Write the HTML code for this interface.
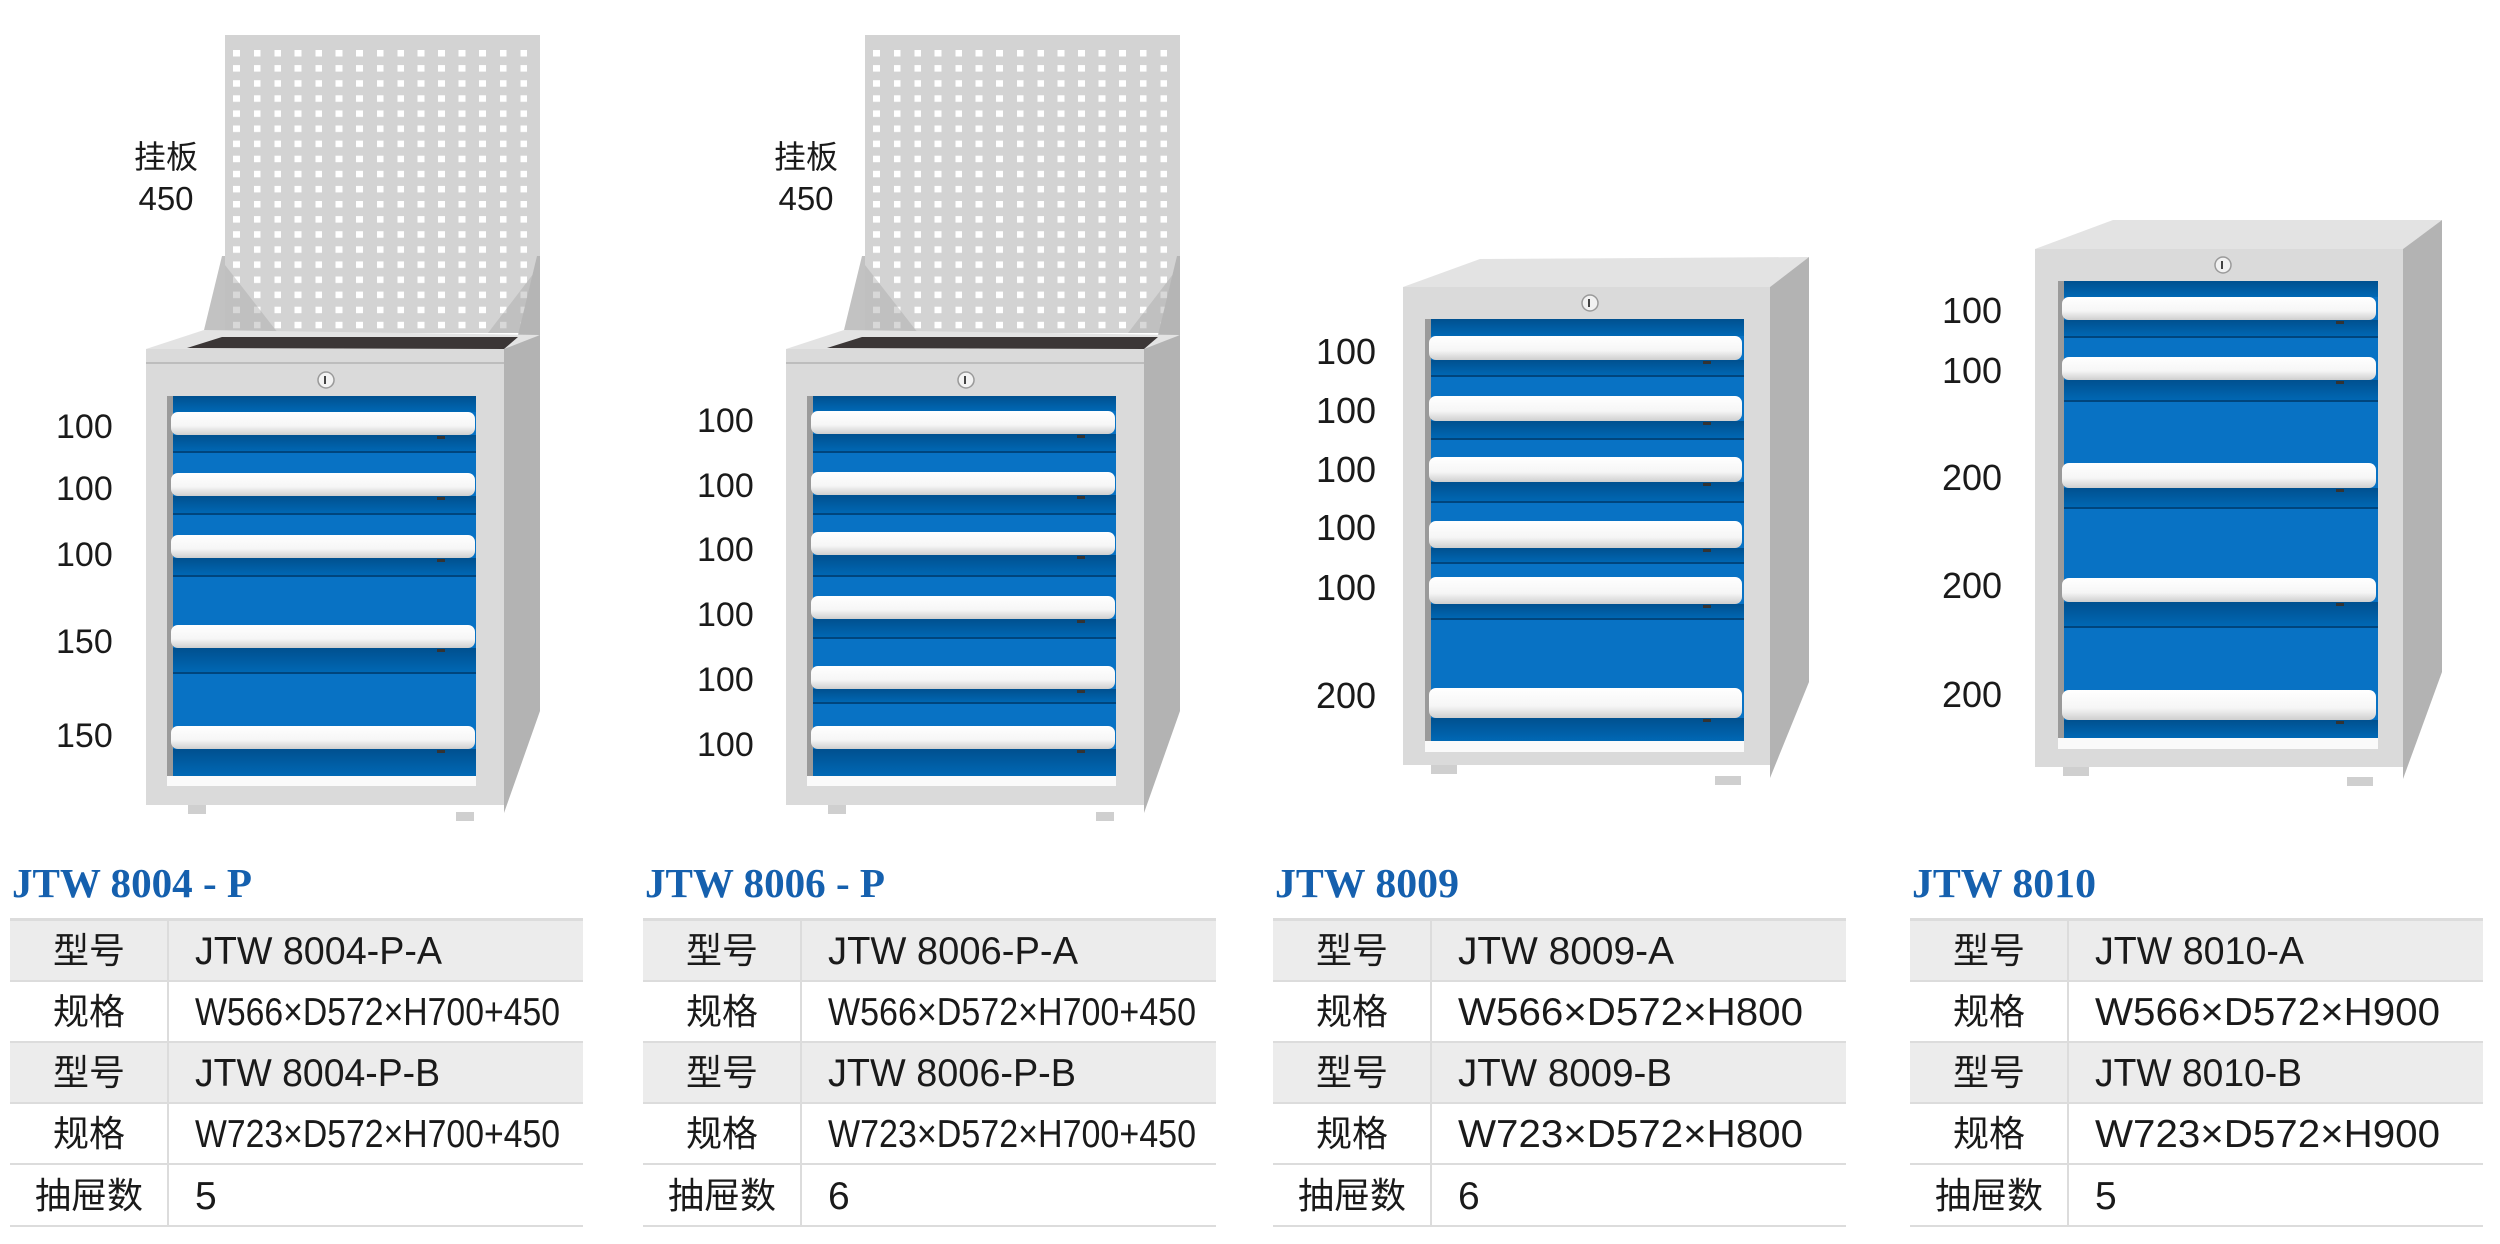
<!DOCTYPE html>
<html><head><meta charset="utf-8"><style>
html,body{margin:0;padding:0;background:#fff;}
svg{display:block;}
.lbl{font-family:"Liberation Sans",sans-serif;font-size:34px;fill:#1a1a1a;}
.lbl2{font-family:"Liberation Sans",sans-serif;font-size:36px;fill:#1a1a1a;}
.cjk{font-family:"Liberation Sans","Noto Sans CJK SC",sans-serif;font-size:36px;fill:#1a1a1a;}
.val{font-family:"Liberation Sans Narrow","Liberation Sans",sans-serif;font-size:39px;fill:#1a1a1a;}
.ttl{font-family:"Liberation Serif",serif;font-weight:bold;font-size:41px;fill:#1560ae;}
</style></head><body>
<svg width="2500" height="1244" viewBox="0 0 2500 1244" xmlns="http://www.w3.org/2000/svg">
<defs>
<pattern id="holes" patternUnits="userSpaceOnUse" x="233" y="50" width="20.5" height="15.1">
<rect x="0" y="0" width="7" height="6.5" fill="#fff"/></pattern>
<linearGradient id="hd" x1="0" y1="0" x2="0" y2="1">
<stop offset="0" stop-color="#ffffff"/><stop offset="0.6" stop-color="#f6f6f6"/><stop offset="1" stop-color="#cfcfcf"/></linearGradient>
<linearGradient id="dk" x1="0" y1="0" x2="0" y2="1">
<stop offset="0" stop-color="#00508f"/><stop offset="1" stop-color="#0068b5"/></linearGradient>
<g id="pegtop">
<rect x="225" y="35" width="315" height="298" fill="#d3d3d3"/>
<rect x="233" y="50" width="295" height="279" fill="url(#holes)"/>
<polygon points="225,265 278,333 225,333" fill="#a9a9a9" opacity="0.45"/>
<polygon points="540,265 488,333 540,333" fill="#a9a9a9" opacity="0.45"/>
<polygon points="204,330 222,256 225,256 225,333" fill="#c2c2c2"/>
<polygon points="518,335 537,256 540,256 540,336" fill="#b5b5b5"/>
<polygon points="146,349 204,330 540,335 504,350" fill="#e3e3e3"/>
<polygon points="187,348 222,337 518,337 504,349" fill="#3b3636"/>
<rect x="146" y="349" width="358" height="456" fill="#dadada"/>
<line x1="146" y1="363" x2="504" y2="363" stroke="#bdbdbd" stroke-width="2"/>
<polygon points="504,349 540,335 540,711 504,813" fill="#b3b3b3"/>
<circle cx="326" cy="380" r="8" fill="#f2f2f2" stroke="#9a9a9a" stroke-width="1.5"/>
<rect x="324" y="376" width="2" height="8" fill="#444"/>
<rect x="167" y="396" width="6" height="385" fill="#9a9a9a"/>
<rect x="173" y="396" width="303" height="380" fill="#0872c4"/>
<rect x="167" y="776" width="309" height="10" fill="#fafafa"/>
<rect x="188" y="805" width="18" height="9" fill="#cfcfcf"/>
<rect x="456" y="812" width="18" height="9" fill="#cfcfcf"/>
</g>
</defs>

<!-- Cabinet 1 -->
<use href="#pegtop"/>
<g>
<rect x="173" y="396" width="303" height="16" fill="url(#dk)"/>
<rect x="173" y="435" width="303" height="17" fill="url(#dk)"/>
<rect x="173" y="496" width="303" height="18" fill="url(#dk)"/>
<rect x="173" y="558" width="303" height="18" fill="url(#dk)"/>
<rect x="173" y="648" width="303" height="25" fill="url(#dk)"/>
<rect x="173" y="749" width="303" height="27" fill="url(#dk)"/>
<g fill="#00457d"><rect x="173" y="451" width="303" height="2"/><rect x="173" y="513" width="303" height="2"/><rect x="173" y="575" width="303" height="2"/><rect x="173" y="672" width="303" height="2"/></g>
<g fill="url(#hd)"><rect x="171" y="412" width="304" height="23" rx="7"/><rect x="171" y="473" width="304" height="23" rx="7"/><rect x="171" y="535" width="304" height="23" rx="7"/><rect x="171" y="625" width="304" height="23" rx="7"/><rect x="171" y="726" width="304" height="23" rx="7"/></g>
<g fill="#333"><rect x="437" y="436" width="8" height="3"/><rect x="437" y="497" width="8" height="3"/><rect x="437" y="559" width="8" height="3"/><rect x="437" y="649" width="8" height="3"/><rect x="437" y="750" width="8" height="3"/></g>
</g>
<text class="cjk" x="166" y="168" text-anchor="middle" style="font-size:32px">挂板</text>
<text class="lbl" x="166" y="210" text-anchor="middle" style="font-size:33px">450</text>
<text class="lbl" x="56" y="438">100</text>
<text class="lbl" x="56" y="500">100</text>
<text class="lbl" x="56" y="566">100</text>
<text class="lbl" x="56" y="653">150</text>
<text class="lbl" x="56" y="747">150</text>

<!-- Cabinet 2 -->
<g transform="translate(640,0)">
<use href="#pegtop"/>
<rect x="173" y="396" width="303" height="15" fill="url(#dk)"/>
<rect x="173" y="434" width="303" height="18" fill="url(#dk)"/>
<rect x="173" y="495" width="303" height="19" fill="url(#dk)"/>
<rect x="173" y="555" width="303" height="21" fill="url(#dk)"/>
<rect x="173" y="619" width="303" height="19" fill="url(#dk)"/>
<rect x="173" y="689" width="303" height="14" fill="url(#dk)"/>
<rect x="173" y="749" width="303" height="27" fill="url(#dk)"/>
<g fill="#00457d"><rect x="173" y="451" width="303" height="2"/><rect x="173" y="513" width="303" height="2"/><rect x="173" y="575" width="303" height="2"/><rect x="173" y="637" width="303" height="2"/><rect x="173" y="702" width="303" height="2"/></g>
<g fill="url(#hd)"><rect x="171" y="411" width="304" height="23" rx="7"/><rect x="171" y="472" width="304" height="23" rx="7"/><rect x="171" y="532" width="304" height="23" rx="7"/><rect x="171" y="596" width="304" height="23" rx="7"/><rect x="171" y="666" width="304" height="23" rx="7"/><rect x="171" y="726" width="304" height="23" rx="7"/></g>
<g fill="#333"><rect x="437" y="435" width="8" height="3"/><rect x="437" y="496" width="8" height="3"/><rect x="437" y="556" width="8" height="3"/><rect x="437" y="620" width="8" height="3"/><rect x="437" y="690" width="8" height="3"/><rect x="437" y="750" width="8" height="3"/></g>
<text class="cjk" x="166" y="168" text-anchor="middle" style="font-size:32px">挂板</text>
<text class="lbl" x="166" y="210" text-anchor="middle" style="font-size:33px">450</text>
</g>
<text class="lbl" x="697" y="432">100</text>
<text class="lbl" x="697" y="497">100</text>
<text class="lbl" x="697" y="561">100</text>
<text class="lbl" x="697" y="626">100</text>
<text class="lbl" x="697" y="691">100</text>
<text class="lbl" x="697" y="756">100</text>

<!-- Cabinet 3 -->
<g>
<polygon points="1403,287 1480,259 1809,257 1770,287" fill="#e3e3e3"/>
<rect x="1403" y="287" width="367" height="478" fill="#dadada"/>
<polygon points="1770,287 1809,257 1809,682 1770,778" fill="#b3b3b3"/>
<circle cx="1590" cy="303" r="8" fill="#f2f2f2" stroke="#9a9a9a" stroke-width="1.5"/>
<rect x="1588" y="299" width="2" height="8" fill="#444"/>
<rect x="1425" y="319" width="6" height="433" fill="#9a9a9a"/>
<rect x="1431" y="319" width="313" height="422" fill="#0872c4"/>
<rect x="1425" y="741" width="319" height="11" fill="#fafafa"/>
<rect x="1431" y="319" width="313" height="17" fill="url(#dk)"/>
<rect x="1431" y="360" width="313" height="16" fill="url(#dk)"/>
<rect x="1431" y="421" width="313" height="18" fill="url(#dk)"/>
<rect x="1431" y="482" width="313" height="20" fill="url(#dk)"/>
<rect x="1431" y="548" width="313" height="15" fill="url(#dk)"/>
<rect x="1431" y="604" width="313" height="15" fill="url(#dk)"/>
<rect x="1431" y="718" width="313" height="23" fill="url(#dk)"/>
<g fill="#00457d"><rect x="1431" y="375" width="313" height="2"/><rect x="1431" y="438" width="313" height="2"/><rect x="1431" y="501" width="313" height="2"/><rect x="1431" y="562" width="313" height="2"/><rect x="1431" y="618" width="313" height="2"/></g>
<g fill="url(#hd)"><rect x="1429" y="336" width="313" height="24" rx="7"/><rect x="1429" y="396" width="313" height="25" rx="7"/><rect x="1429" y="457" width="313" height="25" rx="7"/><rect x="1429" y="521" width="313" height="27" rx="7"/><rect x="1429" y="577" width="313" height="27" rx="7"/><rect x="1429" y="688" width="313" height="30" rx="7"/></g>
<g fill="#333"><rect x="1703" y="361" width="8" height="3"/><rect x="1703" y="422" width="8" height="3"/><rect x="1703" y="483" width="8" height="3"/><rect x="1703" y="549" width="8" height="3"/><rect x="1703" y="605" width="8" height="3"/><rect x="1703" y="719" width="8" height="3"/></g>
<rect x="1431" y="765" width="26" height="9" fill="#cfcfcf"/>
<rect x="1715" y="776" width="26" height="9" fill="#cfcfcf"/>
</g>
<text class="lbl2" x="1316" y="364">100</text>
<text class="lbl2" x="1316" y="423">100</text>
<text class="lbl2" x="1316" y="482">100</text>
<text class="lbl2" x="1316" y="540">100</text>
<text class="lbl2" x="1316" y="600">100</text>
<text class="lbl2" x="1316" y="708">200</text>

<!-- Cabinet 4 -->
<g>
<polygon points="2035,249 2113,220 2442,220 2403,249" fill="#e3e3e3"/>
<rect x="2035" y="249" width="368" height="518" fill="#dadada"/>
<polygon points="2403,249 2442,220 2442,672 2403,779" fill="#b3b3b3"/>
<circle cx="2223" cy="265" r="8" fill="#f2f2f2" stroke="#9a9a9a" stroke-width="1.5"/>
<rect x="2221" y="261" width="2" height="8" fill="#444"/>
<rect x="2058" y="281" width="6" height="468" fill="#9a9a9a"/>
<rect x="2064" y="281" width="314" height="457" fill="#0872c4"/>
<rect x="2058" y="738" width="320" height="11" fill="#fafafa"/>
<rect x="2064" y="281" width="314" height="16" fill="url(#dk)"/>
<rect x="2064" y="320" width="314" height="17" fill="url(#dk)"/>
<rect x="2064" y="380" width="314" height="21" fill="url(#dk)"/>
<rect x="2064" y="488" width="314" height="20" fill="url(#dk)"/>
<rect x="2064" y="602" width="314" height="25" fill="url(#dk)"/>
<rect x="2064" y="720" width="314" height="18" fill="url(#dk)"/>
<g fill="#00457d"><rect x="2064" y="336" width="314" height="2"/><rect x="2064" y="400" width="314" height="2"/><rect x="2064" y="507" width="314" height="2"/><rect x="2064" y="626" width="314" height="2"/></g>
<g fill="url(#hd)"><rect x="2062" y="297" width="314" height="23" rx="7"/><rect x="2062" y="357" width="314" height="23" rx="7"/><rect x="2062" y="463" width="314" height="25" rx="7"/><rect x="2062" y="578" width="314" height="24" rx="7"/><rect x="2062" y="690" width="314" height="30" rx="7"/></g>
<g fill="#333"><rect x="2336" y="321" width="8" height="3"/><rect x="2336" y="381" width="8" height="3"/><rect x="2336" y="489" width="8" height="3"/><rect x="2336" y="603" width="8" height="3"/><rect x="2336" y="721" width="8" height="3"/></g>
<rect x="2063" y="767" width="26" height="9" fill="#cfcfcf"/>
<rect x="2347" y="777" width="26" height="9" fill="#cfcfcf"/>
</g>
<text class="lbl2" x="1942" y="323">100</text>
<text class="lbl2" x="1942" y="383">100</text>
<text class="lbl2" x="1942" y="490">200</text>
<text class="lbl2" x="1942" y="598">200</text>
<text class="lbl2" x="1942" y="707">200</text>

<!-- Tables -->
<g>
<text class="ttl" x="12" y="897" textLength="240" lengthAdjust="spacingAndGlyphs">JTW 8004 - P</text>
<rect x="10" y="919" width="573" height="61" fill="#ececec"/><rect x="10" y="1042" width="573" height="61" fill="#ececec"/>
<g fill="#dcdcdc"><rect x="10" y="918" width="573" height="3"/><rect x="10" y="980" width="573" height="2"/><rect x="10" y="1041" width="573" height="2"/><rect x="10" y="1102" width="573" height="2"/><rect x="10" y="1163" width="573" height="2"/><rect x="10" y="1225" width="573" height="2"/><rect x="167" y="919" width="2" height="307"/></g>
<text class="cjk" x="89" y="963" text-anchor="middle">型号</text>
<text class="cjk" x="89" y="1024" text-anchor="middle">规格</text>
<text class="cjk" x="89" y="1085" text-anchor="middle">型号</text>
<text class="cjk" x="89" y="1146" text-anchor="middle">规格</text>
<text class="cjk" x="89" y="1208" text-anchor="middle">抽屉数</text>
<text class="val" x="195" y="964" textLength="247" lengthAdjust="spacingAndGlyphs">JTW 8004-P-A</text>
<text class="val" x="195" y="1025" textLength="365" lengthAdjust="spacingAndGlyphs">W566×D572×H700+450</text>
<text class="val" x="195" y="1086" textLength="245" lengthAdjust="spacingAndGlyphs">JTW 8004-P-B</text>
<text class="val" x="195" y="1147" textLength="365" lengthAdjust="spacingAndGlyphs">W723×D572×H700+450</text>
<text class="val" x="195" y="1209">5</text>
</g>
<g transform="translate(633,0)">
<text class="ttl" x="12" y="897" textLength="240" lengthAdjust="spacingAndGlyphs">JTW 8006 - P</text>
<rect x="10" y="919" width="573" height="61" fill="#ececec"/><rect x="10" y="1042" width="573" height="61" fill="#ececec"/>
<g fill="#dcdcdc"><rect x="10" y="918" width="573" height="3"/><rect x="10" y="980" width="573" height="2"/><rect x="10" y="1041" width="573" height="2"/><rect x="10" y="1102" width="573" height="2"/><rect x="10" y="1163" width="573" height="2"/><rect x="10" y="1225" width="573" height="2"/><rect x="167" y="919" width="2" height="307"/></g>
<text class="cjk" x="89" y="963" text-anchor="middle">型号</text>
<text class="cjk" x="89" y="1024" text-anchor="middle">规格</text>
<text class="cjk" x="89" y="1085" text-anchor="middle">型号</text>
<text class="cjk" x="89" y="1146" text-anchor="middle">规格</text>
<text class="cjk" x="89" y="1208" text-anchor="middle">抽屉数</text>
<text class="val" x="195" y="964" textLength="250" lengthAdjust="spacingAndGlyphs">JTW 8006-P-A</text>
<text class="val" x="195" y="1025" textLength="368" lengthAdjust="spacingAndGlyphs">W566×D572×H700+450</text>
<text class="val" x="195" y="1086" textLength="248" lengthAdjust="spacingAndGlyphs">JTW 8006-P-B</text>
<text class="val" x="195" y="1147" textLength="368" lengthAdjust="spacingAndGlyphs">W723×D572×H700+450</text>
<text class="val" x="195" y="1209">6</text>
</g>
<g transform="translate(1263,0)">
<text class="ttl" x="12" y="897" textLength="184" lengthAdjust="spacingAndGlyphs">JTW 8009</text>
<rect x="10" y="919" width="573" height="61" fill="#ececec"/><rect x="10" y="1042" width="573" height="61" fill="#ececec"/>
<g fill="#dcdcdc"><rect x="10" y="918" width="573" height="3"/><rect x="10" y="980" width="573" height="2"/><rect x="10" y="1041" width="573" height="2"/><rect x="10" y="1102" width="573" height="2"/><rect x="10" y="1163" width="573" height="2"/><rect x="10" y="1225" width="573" height="2"/><rect x="167" y="919" width="2" height="307"/></g>
<text class="cjk" x="89" y="963" text-anchor="middle">型号</text>
<text class="cjk" x="89" y="1024" text-anchor="middle">规格</text>
<text class="cjk" x="89" y="1085" text-anchor="middle">型号</text>
<text class="cjk" x="89" y="1146" text-anchor="middle">规格</text>
<text class="cjk" x="89" y="1208" text-anchor="middle">抽屉数</text>
<text class="val" x="195" y="964" textLength="216" lengthAdjust="spacingAndGlyphs">JTW 8009-A</text>
<text class="val" x="195" y="1025" textLength="345" lengthAdjust="spacingAndGlyphs">W566×D572×H800</text>
<text class="val" x="195" y="1086" textLength="214" lengthAdjust="spacingAndGlyphs">JTW 8009-B</text>
<text class="val" x="195" y="1147" textLength="345" lengthAdjust="spacingAndGlyphs">W723×D572×H800</text>
<text class="val" x="195" y="1209">6</text>
</g>
<g transform="translate(1900,0)">
<text class="ttl" x="12" y="897" textLength="184" lengthAdjust="spacingAndGlyphs">JTW 8010</text>
<rect x="10" y="919" width="573" height="61" fill="#ececec"/><rect x="10" y="1042" width="573" height="61" fill="#ececec"/>
<g fill="#dcdcdc"><rect x="10" y="918" width="573" height="3"/><rect x="10" y="980" width="573" height="2"/><rect x="10" y="1041" width="573" height="2"/><rect x="10" y="1102" width="573" height="2"/><rect x="10" y="1163" width="573" height="2"/><rect x="10" y="1225" width="573" height="2"/><rect x="167" y="919" width="2" height="307"/></g>
<text class="cjk" x="89" y="963" text-anchor="middle">型号</text>
<text class="cjk" x="89" y="1024" text-anchor="middle">规格</text>
<text class="cjk" x="89" y="1085" text-anchor="middle">型号</text>
<text class="cjk" x="89" y="1146" text-anchor="middle">规格</text>
<text class="cjk" x="89" y="1208" text-anchor="middle">抽屉数</text>
<text class="val" x="195" y="964" textLength="209" lengthAdjust="spacingAndGlyphs">JTW 8010-A</text>
<text class="val" x="195" y="1025" textLength="345" lengthAdjust="spacingAndGlyphs">W566×D572×H900</text>
<text class="val" x="195" y="1086" textLength="207" lengthAdjust="spacingAndGlyphs">JTW 8010-B</text>
<text class="val" x="195" y="1147" textLength="345" lengthAdjust="spacingAndGlyphs">W723×D572×H900</text>
<text class="val" x="195" y="1209">5</text>
</g>
</svg>
</body></html>
